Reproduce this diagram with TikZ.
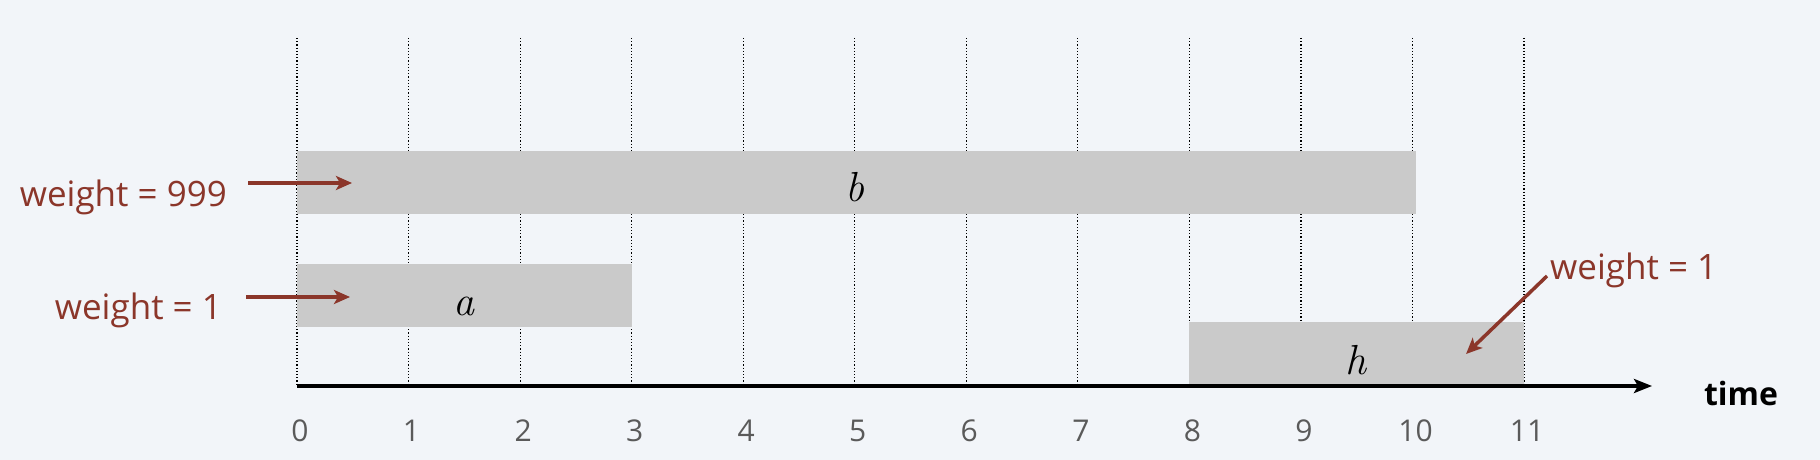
\documentclass[tikz,border=0pt]{standalone}
\usepackage{fontspec}
\setmainfont{Open Sans}
\newfontfamily\jobfont{Latin Modern Roman}
\usetikzlibrary{arrows.meta}
\definecolor{bg}{RGB}{242,245,249}
\definecolor{boxgray}{RGB}{202,202,202}
\definecolor{wred}{RGB}{139,54,42}
\definecolor{numgray}{RGB}{90,90,90}
\begin{document}
\begin{tikzpicture}[x=1pt,y=-1pt,
  gridline/.style={black, line width=1.2pt, dotted},
  jobbox/.style={fill=boxgray, draw=none, inner sep=0pt, outer sep=0pt, anchor=north west},
  joblabel/.style={font=\jobfont\itshape\fontsize{42}{44}\selectfont, inner sep=0pt},
  wlabel/.style={text=wred, font=\fontsize{35}{38}\selectfont, inner sep=0pt},
  warrow/.style={draw=wred, line width=3.5pt, -{Stealth[length=16pt,width=14pt,inset=4pt]}},
  numlabel/.style={text=numgray, font=\fontsize{30}{32}\selectfont, inner sep=0pt},
  axis/.style={black, line width=3.5pt, -{Stealth[length=18pt,width=14pt,inset=4pt]}}]
\fill[bg] (0,0) rectangle (1820,460);
\useasboundingbox (0,0) rectangle (1820,460);
\foreach \i in {0,...,11} {
  \draw[gridline] (297+111.55*\i,38) -- (297+111.55*\i,385);
  \node[numlabel] (n\i) at (300+111.55*\i,431) {\i};
}
\node[jobbox, minimum width=1119pt, minimum height=63pt] (boxb) at (297,151) {};
\node[jobbox, minimum width=334.6pt, minimum height=63pt] (boxa) at (297,264) {};
\node[jobbox, minimum width=334.6pt, minimum height=63pt] (boxh) at (1189.4,322) {};
\node[joblabel] (b) at (855,187) {b};
\node[joblabel] (a) at (464,306) {a};
\node[joblabel] (h) at (1356,360) {h};
\coordinate (axs) at (297,386);
\coordinate (axe) at (1652,386);
\draw[axis] (axs) -- (axe);
\node[font=\bfseries\fontsize{32}{34}\selectfont, inner sep=0pt] (time) at (1741,393) {time};
\node[wlabel, anchor=east] (w999) at (227,197) {weight = 999};
\node[wlabel, anchor=east] (w1a) at (222,310) {weight = 1};
\node[wlabel, anchor=west] (w1h) at (1550,270) {weight = 1};
\coordinate (t999) at (352,183);
\coordinate (t1a) at (350,297);
\coordinate (t1h) at (1466,354);
\draw[warrow] ([shift={(21,-14)}]w999.east) -- (t999);
\draw[warrow] ([shift={(24,-13)}]w1a.east) -- (t1a);
\draw[warrow] ([shift={(-3,6)}]w1h.west) -- (t1h);
\end{tikzpicture}
\end{document}
